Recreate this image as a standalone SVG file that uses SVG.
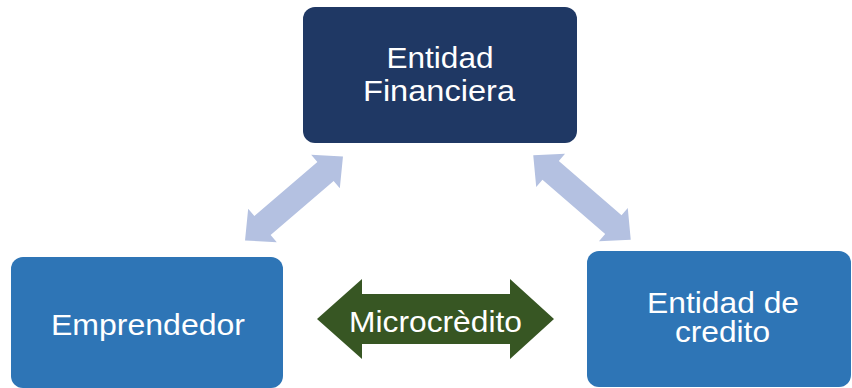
<svg xmlns="http://www.w3.org/2000/svg" width="852" height="388" viewBox="0 0 852 388">
  <style>
    .lbl { font-family: "Liberation Sans", Arial, sans-serif; font-size: 29px; fill: #ffffff; text-anchor: middle; }
    .dark { fill: #1F3864; }
    .mid { fill: #2E75B6; }
    .conn { fill: #B4C1E1; }
    .green { fill: #375623; }
  </style>
  <defs>
    <path id="dbl" d="M -64.5 0 L -41.5 -22 L -41.5 -12.5 L 41.5 -12.5 L 41.5 -22 L 64.5 0 L 41.5 22 L 41.5 12.5 L -41.5 12.5 L -41.5 22 Z"/>
  </defs>
  <rect width="852" height="388" fill="#ffffff"/>
  <g id="connectors">
    <use href="#dbl" class="conn" transform="translate(294 198.5) rotate(-40.6)"/>
    <use href="#dbl" class="conn" transform="translate(582 197.5) rotate(40.9)"/>
    <g id="microcredito">
      <path class="green" d="M 317 319 L 362 279 L 362 294 L 510 294 L 510 279 L 554 319 L 510 359 L 510 344 L 362 344 L 362 359 Z"/>
      <text class="lbl" x="435.5" y="332" textLength="173" lengthAdjust="spacingAndGlyphs">Microcrèdito</text>
    </g>
  </g>
  <g id="entidad-financiera">
    <rect class="dark" x="303" y="7" width="274" height="136" rx="12"/>
    <text class="lbl" x="440" y="68" textLength="107" lengthAdjust="spacingAndGlyphs">Entidad</text>
    <text class="lbl" x="439" y="101" textLength="152" lengthAdjust="spacingAndGlyphs">Financiera</text>
  </g>
  <g id="emprendedor">
    <rect class="mid" x="11" y="257" width="272" height="131" rx="12"/>
    <text class="lbl" x="148" y="335" textLength="194" lengthAdjust="spacingAndGlyphs">Emprendedor</text>
  </g>
  <g id="entidad-credito">
    <rect class="mid" x="587" y="251" width="264" height="136" rx="12"/>
    <text class="lbl" x="723" y="313" textLength="152" lengthAdjust="spacingAndGlyphs">Entidad de</text>
    <text class="lbl" x="722.5" y="342" textLength="95" lengthAdjust="spacingAndGlyphs">credito</text>
  </g>
</svg>
